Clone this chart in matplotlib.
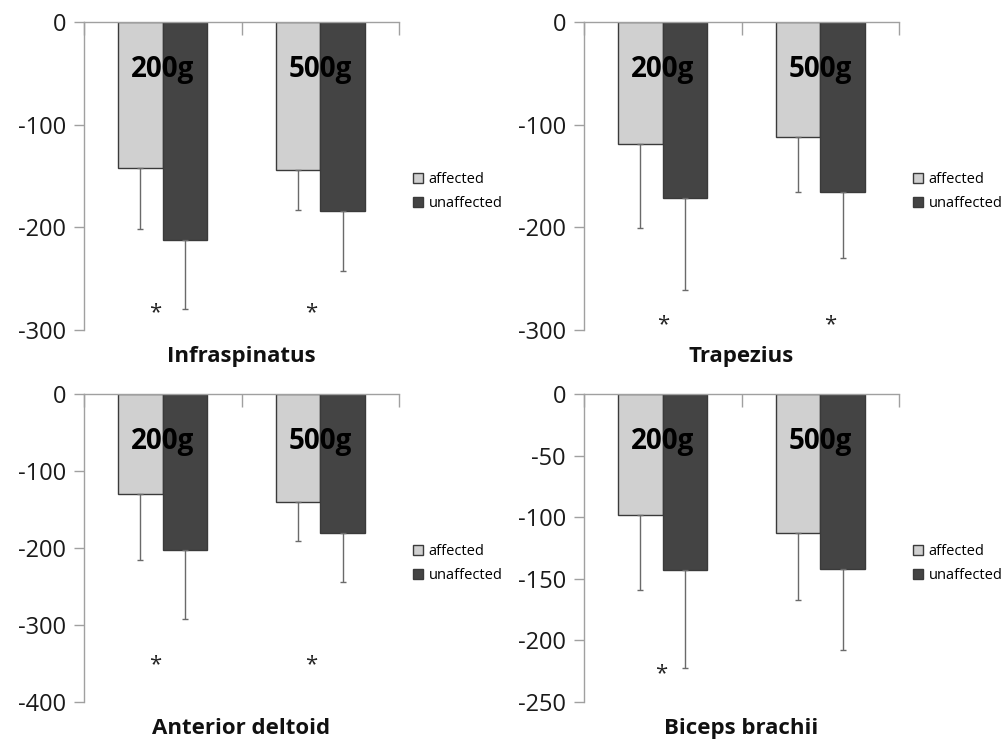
import matplotlib
matplotlib.use("Agg")
import matplotlib.pyplot as plt
import numpy as np

plt.rcParams['font.family'] = ['Open Sans', 'DejaVu Sans']

# ---- data ----
loads = ["200g", "500g"]
series_names = ["affected", "unaffected"]
muscles = ["Infraspinatus", "Trapezius", "Anterior deltoid", "Biceps brachii"]

inf_aff = [-142, -144]
inf_aff_sd = [60, 39]
inf_unaff = [-212, -184]
inf_unaff_sd = [68, 59]

trap_aff = [-119, -112]
trap_aff_sd = [82, 54]
trap_unaff = [-171, -166]
trap_unaff_sd = [90, 64]

ad_aff = [-130, -140]
ad_aff_sd = [85, 51]
ad_unaff = [-202, -180]
ad_unaff_sd = [90, 64]

bb_aff = [-98, -113]
bb_aff_sd = [61, 54]
bb_unaff = [-143, -142]
bb_unaff_sd = [79, 66]

y_min = [-300, -300, -400, -250]
y_step = [100, 100, 100, 50]

# significance stars (x in category units, y in data units)
stars_inf = [(-0.05, -283), (0.94, -283)]
stars_trap = [(0.0, -295), (1.06, -295)]
stars_ad = [(-0.05, -352), (0.94, -352)]
stars_bb = [(-0.01, -227)]

panels = [
    (inf_aff, inf_aff_sd, inf_unaff, inf_unaff_sd, stars_inf),
    (trap_aff, trap_aff_sd, trap_unaff, trap_unaff_sd, stars_trap),
    (ad_aff, ad_aff_sd, ad_unaff, ad_unaff_sd, stars_ad),
    (bb_aff, bb_aff_sd, bb_unaff, bb_unaff_sd, stars_bb),
]

# ---- layout ----
W, H = 1007, 740
fig = plt.figure(figsize=(W / 100, H / 100), dpi=100)
boxes = [
    (84, 22, 315, 308),
    (584, 22, 315, 308),
    (84, 394, 315, 308),
    (584, 394, 315, 308),
]

c_aff = "#d0d0d0"
c_unaff = "#444444"
edge = "#3a3a3a"
axis_col = "#a0a0a0"
err_col = "#6a6a6a"
bw = 0.283

for i, (aff, aff_sd, un, un_sd, stars) in enumerate(panels):
    x0, y0, w, h = boxes[i]
    ax = fig.add_axes([x0 / W, 1 - (y0 + h) / H, w / W, h / H])
    x = np.arange(len(loads))
    ax.bar(x - bw / 2, aff, bw, color=c_aff, edgecolor=edge, linewidth=1.0,
           label=series_names[0], zorder=2)
    ax.bar(x + bw / 2, un, bw, color=c_unaff, edgecolor=edge, linewidth=1.0,
           label=series_names[1], zorder=2)
    ax.errorbar(x - bw / 2, aff, yerr=[aff_sd, [0] * len(aff_sd)], fmt='none',
                ecolor=err_col, elinewidth=1.0, capsize=2, capthick=1.0, zorder=3)
    ax.errorbar(x + bw / 2, un, yerr=[un_sd, [0] * len(un_sd)], fmt='none',
                ecolor=err_col, elinewidth=1.0, capsize=2, capthick=1.0, zorder=3)

    ax.set_xlim(-0.5, len(loads) - 0.5)
    ax.set_ylim(y_min[i], 0)
    ax.set_yticks(np.arange(y_min[i], 1, y_step[i]))
    ax.set_yticklabels([f"{int(v)}" for v in np.arange(y_min[i], 1, y_step[i])])

    for s in ["bottom", "right"]:
        ax.spines[s].set_visible(False)
    for s in ["left", "top"]:
        ax.spines[s].set_color(axis_col)
        ax.spines[s].set_linewidth(1.0)

    ax.xaxis.set_ticks_position('top')
    ax.set_xticks(np.arange(-0.5, len(loads), 1.0))
    ax.set_xticklabels([])
    ax.tick_params(axis='x', direction='in', length=9, color=axis_col, width=1.0)
    ax.tick_params(axis='y', direction='out', length=7, color=axis_col, width=1.0,
                   labelsize=17, pad=6, labelcolor="#1a1a1a")

    for j, lab in enumerate(loads):
        ax.text(j, 0.845, lab, transform=ax.get_xaxis_transform(), ha='center',
                va='center', fontsize=20, fontweight='bold', color='black', zorder=5)

    for sx, sy in stars:
        ax.text(sx, sy, "*", ha='center', va='center', fontsize=16, color='#222222')

    ax.text(0.5, -0.085, muscles[i], transform=ax.transAxes, ha='center',
            va='center', fontsize=16, fontweight='bold', color='#111111')

    leg = ax.legend(loc='center left', bbox_to_anchor=(1.045, 0.45), frameon=False,
                    fontsize=10.5, handlelength=0.7, handleheight=0.7,
                    handletextpad=0.35, labelspacing=0.62, borderpad=0,
                    borderaxespad=0)

fig.savefig("out.png", dpi=100)
